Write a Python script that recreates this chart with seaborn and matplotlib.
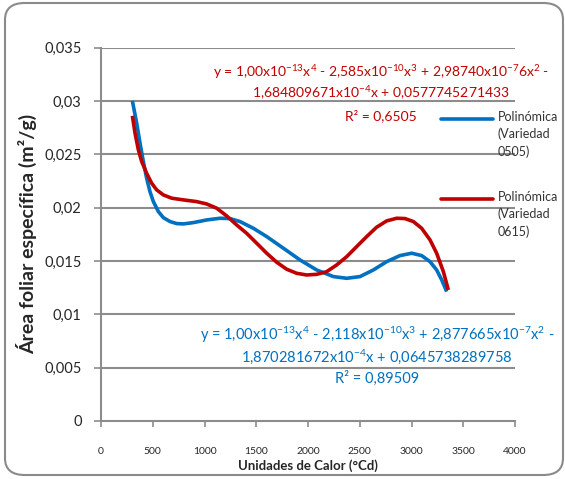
import matplotlib
matplotlib.use("Agg")
import matplotlib.pyplot as plt
import seaborn as sns
import pandas as pd
from matplotlib.patches import FancyBboxPatch

# ---- data ----
x_0505 = [303, 345, 377, 409, 441, 473, 506, 554, 602, 667, 731, 796, 892,
          1021, 1150, 1246, 1343, 1472, 1601, 1762, 1923, 2084, 2245, 2374,
          2502, 2631, 2760, 2889, 3002, 3098, 3179, 3243, 3292, 3340]
y_0505 = [0.03002, 0.02792, 0.02605, 0.02433, 0.02276, 0.02151, 0.02057,
          0.01964, 0.01907, 0.01870, 0.01851, 0.01848, 0.01860, 0.01885,
          0.01901, 0.01898, 0.01870, 0.01807, 0.01729, 0.01620, 0.01510,
          0.01416, 0.01354, 0.01338, 0.01354, 0.01416, 0.01494, 0.01551,
          0.01573, 0.01551, 0.01494, 0.01416, 0.01323, 0.01213]
x_0615 = [303, 329, 361, 393, 441, 490, 538, 602, 683, 796, 924, 1021, 1118,
          1214, 1311, 1407, 1504, 1601, 1697, 1794, 1890, 1987, 2084, 2180,
          2277, 2374, 2470, 2567, 2663, 2760, 2857, 2937, 3018, 3098, 3179,
          3243, 3308, 3356]
y_0615 = [0.02861, 0.02698, 0.02542, 0.02433, 0.02323, 0.02229, 0.02167,
          0.02120, 0.02089, 0.02073, 0.02057, 0.02035, 0.01995, 0.01923,
          0.01838, 0.01760, 0.01667, 0.01573, 0.01489, 0.01423, 0.01385,
          0.01369, 0.01375, 0.01400, 0.01463, 0.01541, 0.01635, 0.01729,
          0.01817, 0.01876, 0.01901, 0.01898, 0.01870, 0.01807, 0.01698,
          0.01573, 0.01400, 0.01229]
x_ticks = [0, 500, 1000, 1500, 2000, 2500, 3000, 3500, 4000]
y_ticks = [0, 0.005, 0.01, 0.015, 0.02, 0.025, 0.03, 0.035]
y_tick_labels = ["0", "0,005", "0,01", "0,015", "0,02", "0,025", "0,03", "0,035"]
series_names = ["Polinómica\n(Variedad\n0505)", "Polinómica\n(Variedad\n0615)"]
eq_0615 = [r"y = 1,00x10$^{\mathregular{-13}}$x$^{\mathregular{4}}$ - 2,585x10$^{\mathregular{-10}}$x$^{\mathregular{3}}$ + 2,98740x10$^{\mathregular{-7}}$6x$^{\mathregular{2}}$ -",
           r"1,684809671x10$^{\mathregular{-4}}$x + 0,0577745271433",
           "R² = 0,6505"]
eq_0505 = [r"y = 1,00x10$^{\mathregular{-13}}$x$^{\mathregular{4}}$ - 2,118x10$^{\mathregular{-10}}$x$^{\mathregular{3}}$ + 2,877665x10$^{\mathregular{-7}}$x$^{\mathregular{2}}$ -",
           r"1,870281672x10$^{\mathregular{-4}}$x + 0,0645738289758",
           "R² = 0,89509"]

blue = "#0070C0"
red = "#C00000"
grid_c = "#8C8C8C"

sns.set_theme(style="white")
plt.rcParams["font.family"] = ["Lato", "DejaVu Sans"]
plt.rcParams["mathtext.fontset"] = "custom"
plt.rcParams["mathtext.rm"] = "Lato"
plt.rcParams["mathtext.it"] = "Lato"

fig = plt.figure(figsize=(5.65, 4.79), dpi=100)
W, H = 565, 479
ax = fig.add_axes([101 / W, 1 - 421 / H, (515 - 101) / W, (421 - 47.7) / H])

# rounded outer border
border = FancyBboxPatch((5 / W, 4 / H), (558 / W), (472 / H),
                        boxstyle="round,pad=0,rounding_size=0.035",
                        transform=fig.transFigure, fill=False,
                        edgecolor="#8A8A8A", linewidth=1.5, zorder=0)
fig.patches.append(border)

df1 = pd.DataFrame({"x": x_0505, "y": y_0505})
df2 = pd.DataFrame({"x": x_0615, "y": y_0615})
sns.lineplot(data=df1, x="x", y="y", ax=ax, color=blue, linewidth=2.6, sort=False, zorder=3)
sns.lineplot(data=df2, x="x", y="y", ax=ax, color=red, linewidth=2.6, sort=False, zorder=4)
for l in ax.get_lines():
    l.set_solid_joinstyle("round")
    l.set_solid_capstyle("butt")

ax.set_xlim(0, 4000)
ax.set_ylim(0, 0.035)
ax.set_xticks(x_ticks)
ax.set_xticklabels([str(t) for t in x_ticks], fontsize=7.5)
ax.set_yticks(y_ticks)
ax.set_yticklabels(y_tick_labels, fontsize=10.5)
for t in y_ticks[1:]:
    ax.axhline(t, color=grid_c, linewidth=1.5, zorder=1)
for s in ["top", "right"]:
    ax.spines[s].set_visible(False)
for s in ["left", "bottom"]:
    ax.spines[s].set_color(grid_c)
    ax.spines[s].set_linewidth(1.5)
ax.tick_params(axis="y", direction="out", length=5, width=1.2, color=grid_c, pad=9, left=True)
ax.tick_params(axis="x", direction="out", length=4, width=1.2, color=grid_c, pad=15, bottom=True)
ax.set_xlabel("Unidades de Calor (°Cd)", fontsize=9.5, fontweight="bold", labelpad=2)
ax.set_ylabel("Área foliar específica (m²/g)", fontsize=14, fontweight="bold", labelpad=5)
ax.patch.set_alpha(0)

# equation labels
ys_red = [72, 93, 116]
for txt, yy in zip(eq_0615, ys_red):
    fig.text(381 / W, 1 - yy / H, txt, color=red, fontsize=10, ha="center", va="center")
ys_blue = [335, 357, 378]
for txt, yy in zip(eq_0505, ys_blue):
    fig.text(377 / W, 1 - yy / H, txt, color=blue, fontsize=10.5, ha="center", va="center")

# legend (manual, matching position)
for name, col, yy in zip(series_names, [blue, red], [119, 199]):
    fig.add_artist(plt.Line2D([441 / W, 493 / W], [1 - yy / H, 1 - yy / H],
                              color=col, linewidth=2.6, transform=fig.transFigure))
    fig.text(498 / W, 1 - (yy - 8) / H, name, fontsize=9, color="#333333",
             ha="left", va="top", linespacing=1.45)

fig.savefig("out.png", dpi=100)
